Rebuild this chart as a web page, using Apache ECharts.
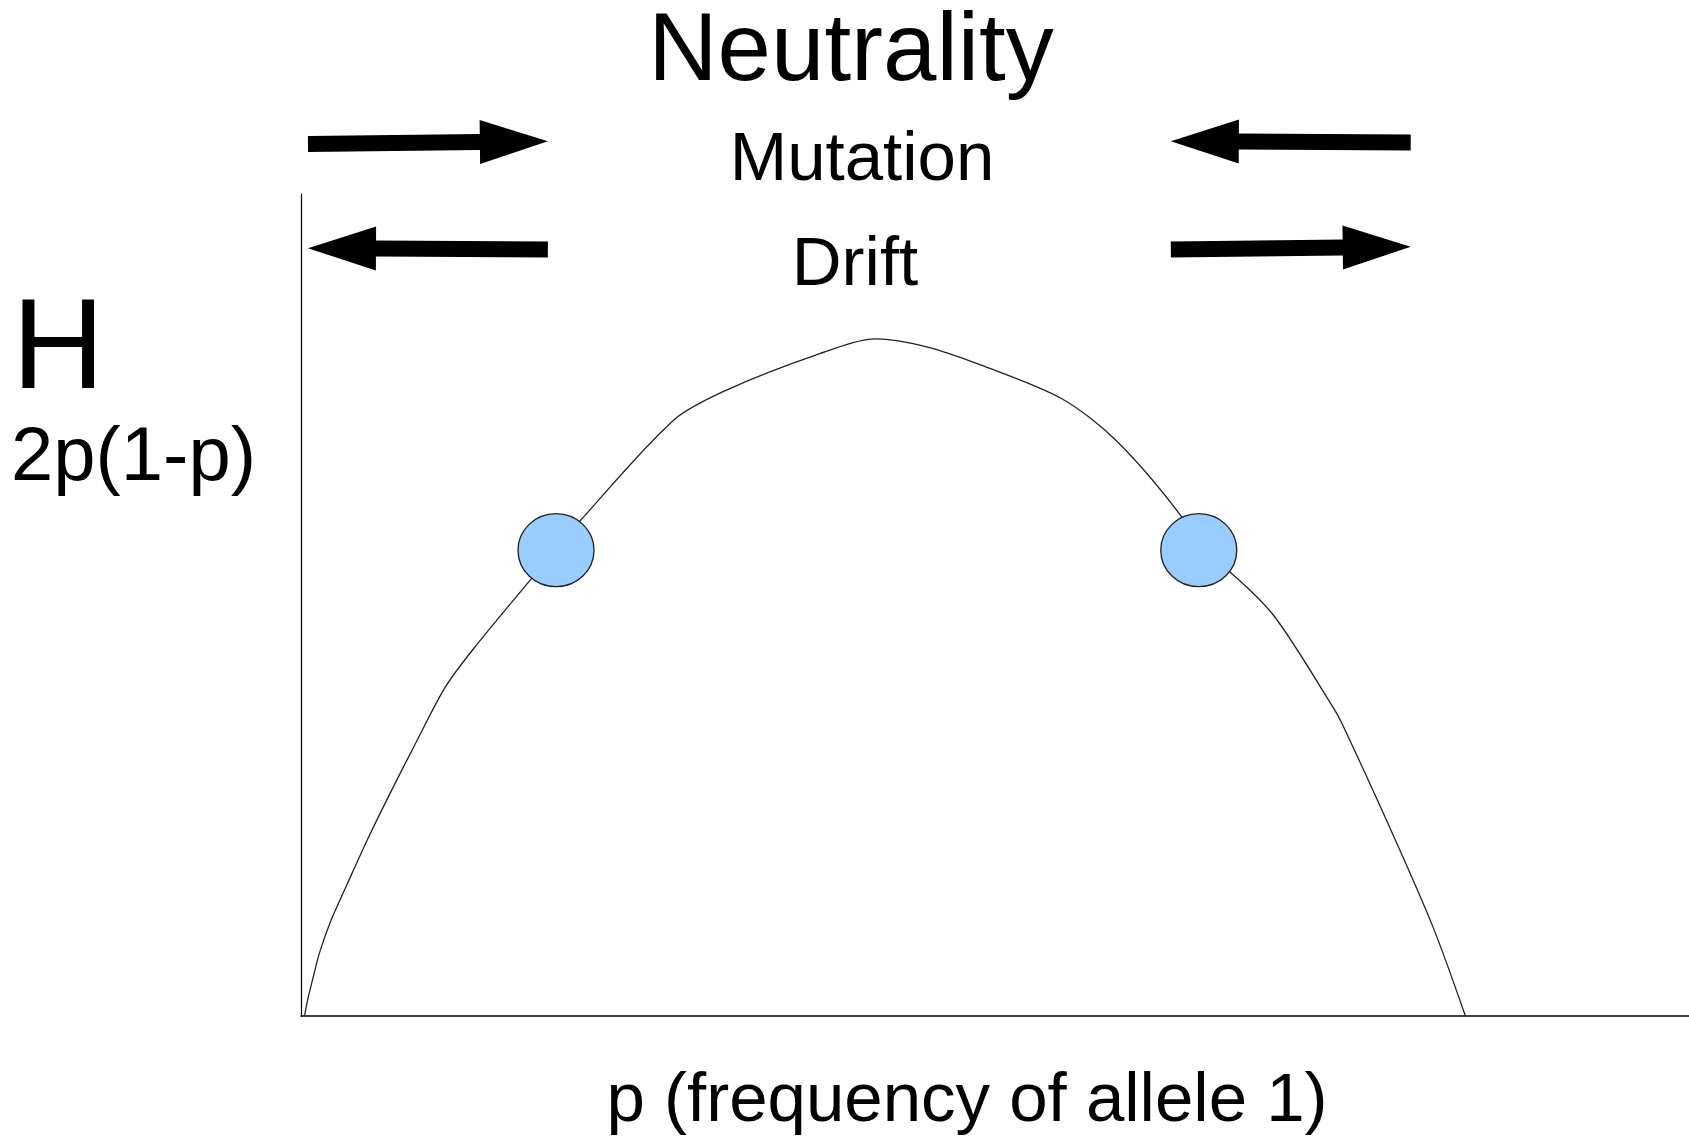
<!DOCTYPE html>
<html>
<head>
<meta charset="utf-8">
<script src="https://cdn.jsdelivr.net/npm/echarts@6/dist/echarts.min.js"></script>
<style>
  html, body { margin: 0; padding: 0; background: #fff; }
  #chart { width: 1689px; height: 1140px; }
</style>
</head>
<body>
<div id="chart"></div>
<script>
// heterozygosity curve H against p
var curvePoints = [
  [0.003, 0], [0.006, 0.013], [0.010, 0.027], [0.016, 0.047], [0.026, 0.071],
  [0.040, 0.098], [0.058, 0.132], [0.078, 0.167], [0.097, 0.199], [0.124, 0.243],
  [0.148, 0.271], [0.197, 0.322], [0.219, 0.344], [0.239, 0.365], [0.320, 0.440],
  [0.365, 0.462], [0.442, 0.488], [0.494, 0.500], [0.538, 0.494], [0.583, 0.481],
  [0.653, 0.456], [0.700, 0.425], [0.756, 0.369], [0.771, 0.344], [0.799, 0.327],
  [0.836, 0.295], [0.887, 0.227], [0.894, 0.216], [0.933, 0.143], [0.972, 0.066],
  [1.0, 0]
];
// the two equilibrium points
var equilibria = [[0.219, 0.344], [0.771, 0.344]];
// arrows: [tail p, tail H, tip p, tip H]
var arrows = [
  [0.006, 0.644, 0.212, 0.646],  // mutation, left side
  [0.212, 0.566, 0.006, 0.567],  // drift, left side
  [0.953, 0.645, 0.747, 0.646],  // mutation, right side
  [0.747, 0.566, 0.953, 0.568]   // drift, right side
];
var xMax = 1.192;
var yMax = 0.607;

var myChart = echarts.init(document.getElementById("chart"));
var font = "'Liberation Sans', Arial, sans-serif";

function label(text, x, y, size, align) {
  return {
    type: "text",
    x: x,
    y: y,
    style: {
      text: text,
      font: size + "px " + font,
      fill: "#000",
      align: align || "center",
      verticalAlign: "middle"
    }
  };
}

var option = {
  animation: false,
  backgroundColor: "#fff",
  grid: { left: 301, right: 0, top: 194, bottom: 124 },
  xAxis: {
    type: "value",
    min: 0,
    max: xMax,
    axisLine: { show: true, lineStyle: { color: "#000", width: 1.6 } },
    axisTick: { show: false },
    axisLabel: { show: false },
    splitLine: { show: false }
  },
  yAxis: {
    type: "value",
    min: 0,
    max: yMax,
    axisLine: { show: true, lineStyle: { color: "#000", width: 1.2 } },
    axisTick: { show: false },
    axisLabel: { show: false },
    splitLine: { show: false }
  },
  graphic: [
    label("Neutrality", 851, 54, 96),
    label("Mutation", 862, 161, 69),
    label("Drift", 855, 266, 69),
    label("H", 12, 353, 128, "left"),
    label("2p(1-p)", 11, 459, 76, "left"),
    label("p (frequency of allele 1)", 967, 1102, 69)
  ],
  series: [
    {
      type: "line",
      data: curvePoints,
      smooth: 0.3,
      showSymbol: false,
      lineStyle: { color: "#222", width: 1.3 },
      z: 2
    },
    {
      type: "scatter",
      data: equilibria,
      symbol: "circle",
      symbolSize: [76, 73],
      itemStyle: { color: "#99ccff", opacity: 1, borderColor: "#222", borderWidth: 1.3 },
      z: 3
    },
    {
      type: "custom",
      data: arrows,
      renderItem: function (params, api) {
        var a = api.coord([api.value(0), api.value(1)]);
        var b = api.coord([api.value(2), api.value(3)]);
        var dx = b[0] - a[0], dy = b[1] - a[1];
        var len = Math.sqrt(dx * dx + dy * dy);
        var ux = dx / len, uy = dy / len;
        var nx = -uy, ny = ux;
        var headLen = 68, headHalf = 22, shaftHalf = 8;
        var bx = b[0] - ux * headLen, by = b[1] - uy * headLen;
        var pts = [
          [a[0] + nx * shaftHalf, a[1] + ny * shaftHalf],
          [bx + nx * shaftHalf, by + ny * shaftHalf],
          [bx + nx * headHalf, by + ny * headHalf],
          [b[0], b[1]],
          [bx - nx * headHalf, by - ny * headHalf],
          [bx - nx * shaftHalf, by - ny * shaftHalf],
          [a[0] - nx * shaftHalf, a[1] - ny * shaftHalf]
        ];
        return {
          type: "polygon",
          shape: { points: pts },
          style: { fill: "#000" }
        };
      },
      z: 4
    }
  ]
};
myChart.setOption(option);
window.addEventListener("resize", function () {
  myChart.resize();
});
</script>
</body>
</html>
